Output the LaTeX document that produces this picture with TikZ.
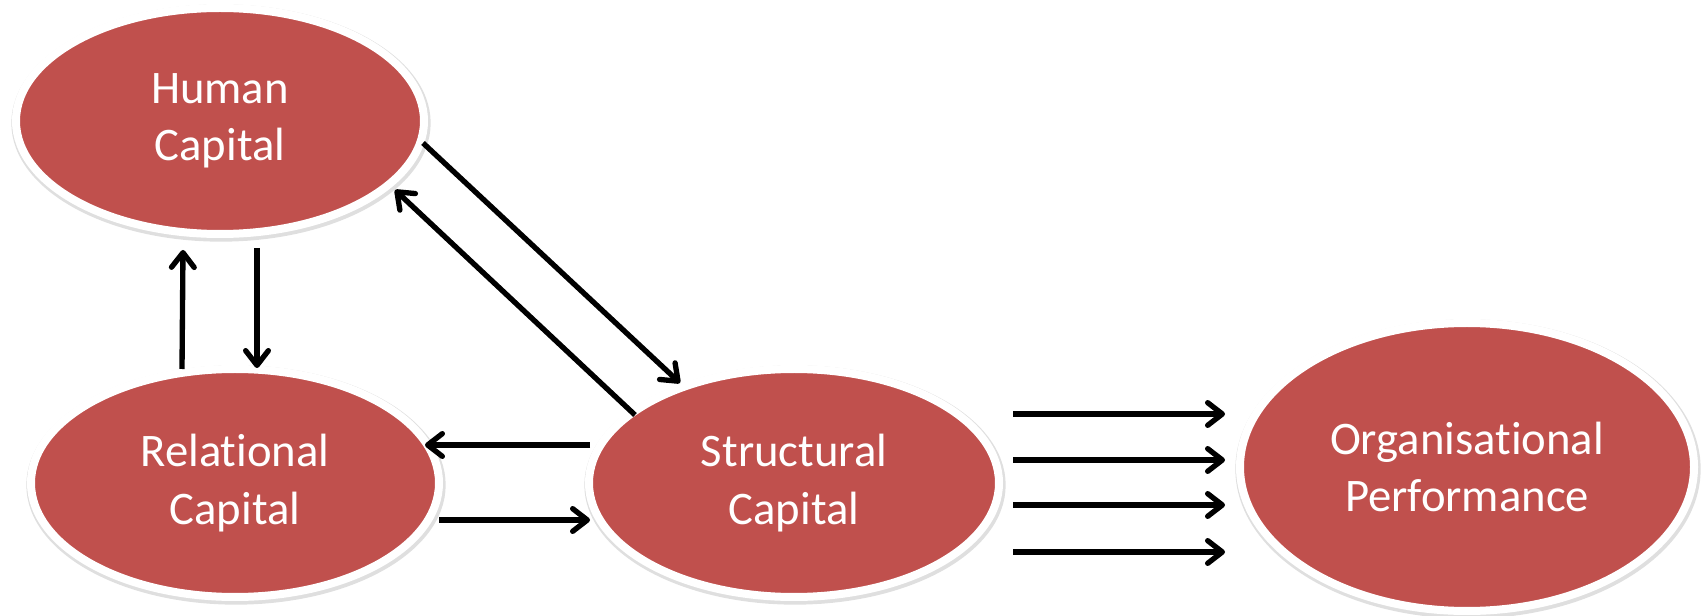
\documentclass[tikz,border=0pt]{standalone}
\usepackage{fontspec}
\setmainfont{Carlito}[Ligatures={NoCommon}]
\usetikzlibrary{shapes.geometric,arrows.meta}
\definecolor{capred}{RGB}{192,80,77}
\begin{document}
\begin{tikzpicture}[x=0.75pt,y=-0.75pt,
  capnode/.style={ellipse, fill=capred, draw=white, line width=6pt, text=white,
    font=\fontsize{35}{43}\selectfont, align=center, inner sep=0pt,
    preaction={draw=black!70, draw opacity=0.18, line width=8.5pt,
      transform canvas={xshift=0.75pt,yshift=-1.5pt}}},
  conn/.style={line width=4pt, -{Straight Barb[length=11pt,width=17pt,round]}}]
\useasboundingbox (0,0) rectangle (1704,616);

\node[capnode, minimum width=306pt, minimum height=169.5pt] (hc) at (220,121) {Human\\Capital};
\node[capnode, minimum width=306pt, minimum height=171pt] (rc) at (235,483) {Relational\\Capital};
\node[capnode, minimum width=307.5pt, minimum height=171pt] (sc) at (794,483) {Structural\\Capital};
\node[capnode, minimum width=340.5pt, minimum height=216pt] (op) at (1467,467) {Organisational\\Performance};

% connector end points
\coordinate (rcUpS) at (182,369);  \coordinate (hcUpT) at (183,250);
\coordinate (hcDnS) at (257,248);  \coordinate (rcDnT) at (257,368);
\coordinate (hcDiS) at (423,143);  \coordinate (scDiT) at (680,383);
\coordinate (scDiS) at (635,415);  \coordinate (hcDiT) at (395,190);
\coordinate (scLS) at (590,445);   \coordinate (rcLT) at (425,445);
\coordinate (rcRS) at (439,520);   \coordinate (scRT) at (590,520);
\coordinate (sc1) at (1013,414);   \coordinate (op1) at (1225,414);
\coordinate (sc2) at (1013,460);   \coordinate (op2) at (1225,460);
\coordinate (sc3) at (1013,505);   \coordinate (op3) at (1225,505);
\coordinate (sc4) at (1013,552);   \coordinate (op4) at (1225,552);

\draw[conn] (rcUpS) -- (hcUpT);
\draw[conn] (hcDnS) -- (rcDnT);
\draw[conn] (hcDiS) -- (scDiT);
\draw[conn] (scDiS) -- (hcDiT);
\draw[conn] (scLS) -- (rcLT);
\draw[conn] (rcRS) -- (scRT);
\draw[conn] (sc1) -- (op1);
\draw[conn] (sc2) -- (op2);
\draw[conn] (sc3) -- (op3);
\draw[conn] (sc4) -- (op4);
\end{tikzpicture}
\end{document}
